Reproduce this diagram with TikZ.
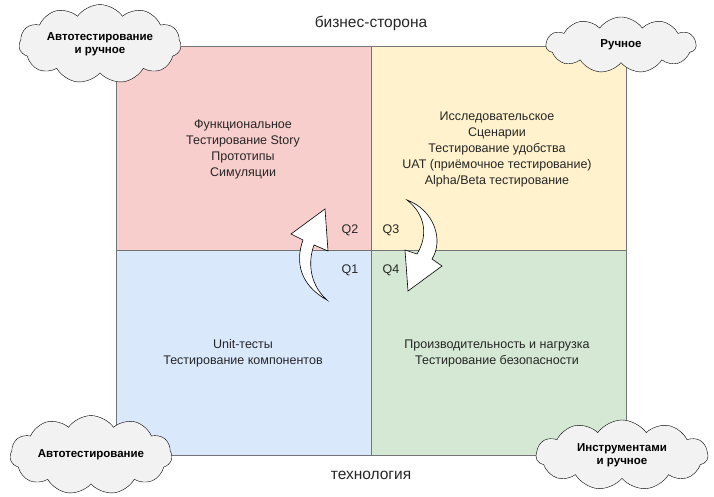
\documentclass[tikz,border=0pt]{standalone}
\usepackage{fontspec}
\setmainfont{Liberation Sans}
\usetikzlibrary{shapes.symbols}
\definecolor{qred}{HTML}{F8CECC}
\definecolor{qyel}{HTML}{FFF2CC}
\definecolor{qblue}{HTML}{DAE8FC}
\definecolor{qgreen}{HTML}{D5E8D4}
\definecolor{qline}{HTML}{36393D}

\begin{document}
\begin{tikzpicture}[x=1pt,y=-1pt,
  quad/.style={draw=qline!70,line width=.6pt},
  txt/.style={align=center,font=\fontsize{12.5}{16}\selectfont,text=black!85},
  cl/.style={cloud,cloud puffs=11,cloud puff arc=110,aspect=2.6,draw=black,fill=black!5,
    align=center,font=\bfseries\fontsize{11.5}{13.5}\selectfont,inner sep=1pt},
  turn/.style={draw=black,fill=white,line width=.6pt}]
  \useasboundingbox (0,0) rectangle (714,497);

  \fill[qred] (116,46) rectangle (371,250);
  \fill[qyel] (371,46) rectangle (626,250);
  \fill[qblue] (116,250) rectangle (371,455);
  \fill[qgreen] (371,250) rectangle (626,455);
  \draw[quad] (116,46) rectangle (626,455);
  \draw[quad] (371,46) -- (371,455);
  \draw[quad] (116,250) -- (626,250);

  \node[txt,font=\fontsize{15.5}{17}\selectfont] (top) at (371,23) {бизнес-сторона};
  \node[txt,font=\fontsize{15.5}{17}\selectfont] (bot) at (371,475) {технология};

  \node[txt] (q2) at (243,149) {Функциональное\\Тестирование Story\\Прототипы\\Симуляции};
  \node[txt] (q3) at (497,149) {Исследовательское\\Сценарии\\Тестирование удобства\\UAT (приёмочное тестирование)\\Alpha/Beta тестирование};
  \node[txt] (q1) at (243,353) {Unit-тесты\\Тестирование компонентов};
  \node[txt] (q4) at (497,353) {Производительность и нагрузка\\Тестирование безопасности};

  \node[txt] (l2) at (350,230) {Q2};
  \node[txt] (l3) at (391,230) {Q3};
  \node[txt] (l1) at (350,270) {Q1};
  \node[txt] (l4) at (391,270) {Q4};

  % curved arrows
  \draw[turn] (327,300) .. controls (300,285) and (295,262) .. (303,240) -- (291,234)
    -- (325,209) -- (328,251) -- (314,245) .. controls (307,264) and (311,286) .. cycle;
  \draw[turn] (407,200) .. controls (434,210) and (444,240) .. (432,259) -- (442,266)
    -- (408,291) -- (405,250) -- (417,254) .. controls (428,236) and (426,215) .. cycle;

  \node[cl,minimum width=162pt,minimum height=62pt] (c1) at (100,44) {Автотестирование\\и ручное};
  \node[cl,minimum width=150pt,minimum height=56pt] (c2) at (621,45) {Ручное};
  \node[cl,minimum width=162pt,minimum height=60pt] (c3) at (91,455) {Автотестирование};
  \node[cl,minimum width=172pt,minimum height=70pt] (c4) at (622,455) {Инструментами\\и ручное};
\end{tikzpicture}
\end{document}
